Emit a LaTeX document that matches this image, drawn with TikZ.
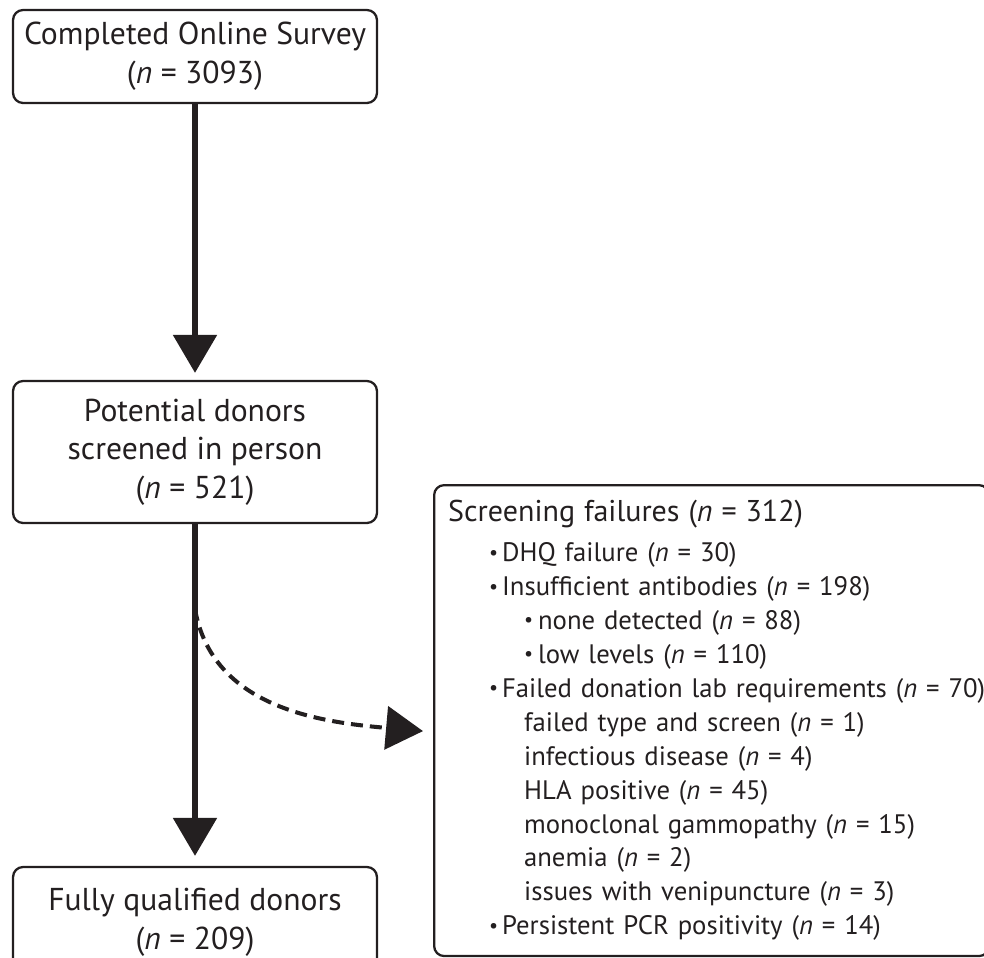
\documentclass[tikz,border=0pt]{standalone}
\usepackage{fontspec}
\setmainfont{PT Sans}
\usepackage{graphicx}
\usepackage{tikz}
\usetikzlibrary{arrows.meta, positioning}

\definecolor{inkdark}{RGB}{35,31,32}
\newcommand{\nn}{\textit{n}}
\newcommand{\dotmark}{\raisebox{0.1em}{\scalebox{0.75}{\textbullet}}}
\newcommand{\lvlone}[1]{\mbox{\hspace*{0.82cm}\makebox[0.26cm][l]{\dotmark}#1}}
\newcommand{\lvltwo}[1]{\mbox{\hspace*{1.52cm}\makebox[0.28cm][l]{\dotmark}#1}}
\newcommand{\lvlsub}[1]{\mbox{\hspace*{1.52cm}#1}}

\begin{document}
\begin{tikzpicture}[x=0.02cm, y=-0.02cm]
\tikzstyle{flow_box}=[rectangle, rounded corners=0.2cm, draw=inkdark, line width=1.3pt, text=inkdark, minimum width=7.28cm, align=center, inner sep=0, font=\fontsize{18}{22}\selectfont]
\tikzstyle{list_box}=[rectangle, rounded corners=0.2cm, draw=inkdark, line width=1.3pt, text=inkdark, inner xsep=0.28cm, inner ysep=0, align=left, font=\fontsize{15.2}{19.3}\selectfont]
\tikzstyle{flow_arrow}=[inkdark, line width=3.1pt, -{Triangle[width=0.86cm, length=0.76cm]}]
\tikzstyle{dash_arrow}=[inkdark, line width=2.3pt, dash pattern=on 0.24cm off 0.14cm, -{Triangle[width=0.86cm, length=0.74cm]}]

\useasboundingbox (0,0) rectangle (984,957);
\clip (0,0) rectangle (984,957);

\node[flow_box, minimum height=1.86cm] at (195,56.5) (survey) {Completed Online Survey\\(\nn{} = 3093)};
\node[flow_box, minimum height=2.84cm] at (195,452) (screened) {Potential donors\\screened in person\\(\nn{} = 521)};
\node[flow_box, minimum height=2.2cm] at (195,922) (qualified) {Fully qualified donors\\(\nn{} = 209)};

\node[list_box, anchor=north west, minimum width=11.1cm, minimum height=9.42cm, text width=10.54cm] at (433,484) (failures) {%
{\fontsize{17.1}{21}\selectfont Screening failures (\nn{} = 312)}\\[0.12cm]
\lvlone{DHQ failure (\nn{} = 30)}\\
\lvlone{Insufficient antibodies (\nn{} = 198)}\\
\lvltwo{none detected (\nn{} = 88)}\\
\lvltwo{low levels (\nn{} = 110)}\\
\lvlone{Failed donation lab requirements (\nn{} = 70)}\\
\lvlsub{failed type and screen (\nn{} = 1)}\\
\lvlsub{infectious disease (\nn{} = 4)}\\
\lvlsub{HLA positive (\nn{} = 45)}\\
\lvlsub{monoclonal gammopathy (\nn{} = 15)}\\
\lvlsub{anemia (\nn{} = 2)}\\
\lvlsub{issues with venipuncture (\nn{} = 3)}\\
\lvlone{Persistent PCR positivity (\nn{} = 14)}};

\path [flow_arrow, shorten >=0.14cm] (survey.south) edge (screened.north);
\path [flow_arrow, shorten >=0.2cm] (screened.south) edge (qualified.north);

%screening failures arrow
\path [dash_arrow] ([yshift=-1.7cm]screened.south) edge[out=-80, in=175] ([xshift=-0.2cm, yshift=-0.21cm]failures.west);

\end{tikzpicture}
\end{document}
